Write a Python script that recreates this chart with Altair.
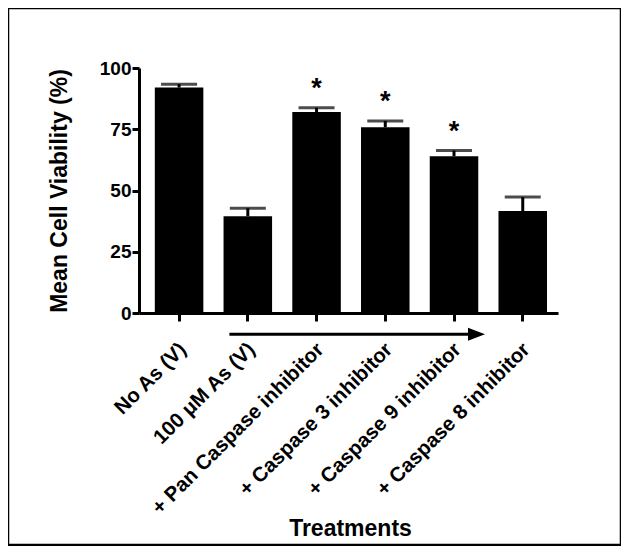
import altair as alt
import pandas as pd

categories = [
    "No As (V)",
    "100 μM As (V)",
    "+ Pan Caspase inhibitor",
    "+ Caspase 3 inhibitor",
    "+ Caspase 9 inhibitor",
    "+ Caspase 8 inhibitor",
]
means = [92.0, 39.5, 82.0, 75.8, 64.0, 41.6]
sems = [1.4, 3.3, 1.8, 2.6, 2.3, 5.7]
significant = ["", "", "*", "*", "*", ""]

arrow_start = ["100 μM As (V)"]
arrow_end = ["+ Caspase 9 inhibitor"]

FONT = "Liberation Sans"

df = pd.DataFrame({
    "cat": categories,
    "mean": means,
    "sem": sems,
    "star": significant,
})
df["upper"] = df["mean"] + df["sem"]
stars = df[df["star"] != ""]
arrow_df = pd.DataFrame({"cat": arrow_start, "cat_end": arrow_end})

W, H = 419, 245

xscale = alt.Scale(domain=categories, paddingInner=0.294, paddingOuter=0.195, align=0.59)
xaxis = alt.Axis(
    title="Treatments",
    labelAngle=-45, labelAlign="right", labelBaseline="middle",
    labelFontSize=20.5, labelFont=FONT, labelFontWeight="bold", labelColor="black",
    labelPadding=25, labelOffset=4, labelLimit=400,
    tickSize=8, tickWidth=3, tickColor="black",
    domainWidth=3, domainColor="black",
    titleFontSize=23, titleFont=FONT, titleFontWeight="bold", titleColor="black",
    titleX=211, titleY=222, titleAlign="center", titleBaseline="alphabetic",
    grid=False,
)
yaxis = alt.Axis(
    title="Mean Cell Viability (%)",
    values=[0, 25, 50, 75, 100],
    labelFontSize=19, labelFont=FONT, labelFontWeight="bold", labelColor="black",
    labelPadding=1,
    tickSize=7, tickWidth=3, tickColor="black",
    domainWidth=3, domainColor="black",
    titleFontSize=23, titleFont=FONT, titleFontWeight="bold", titleColor="black",
    titleX=-73, titleY=122.5, titleAlign="center", titleBaseline="alphabetic", titleAngle=-90,
    grid=False,
)
yscale = alt.Scale(domain=[0, 100], nice=False, zero=True)


def X(field="cat"):
    return alt.X(f"{field}:N", sort=categories, scale=xscale, axis=xaxis)


def Y(field):
    return alt.Y(f"{field}:Q", scale=yscale, axis=yaxis)


base = alt.Chart(df)

bars = base.mark_bar(color="black").encode(x=X(), y=Y("mean"))
err = base.mark_rule(color="black", strokeWidth=3).encode(x=X(), y=Y("mean"), y2="upper:Q")
caps = base.mark_tick(color="black", size=36, thickness=3).encode(x=X(), y=Y("upper"))
star_text = alt.Chart(stars).mark_text(
    font=FONT, fontSize=27, fontWeight="bold", color="black", baseline="alphabetic", dy=-11
).encode(x=X(), y=Y("upper"), text="star:N")

arrow_line = alt.Chart(arrow_df).mark_rule(
    color="black", strokeWidth=3, xOffset=-18.4, x2Offset=20
).encode(x=X(), x2="cat_end:N", y=alt.value(266.3))
arrow_head = alt.Chart(arrow_df).mark_point(
    shape="M-1,-0.76L1,0L-1,0.76Z", filled=True, color="black", opacity=1, size=289, xOffset=22.5
).encode(x=X("cat_end"), y=alt.value(266.3))

frame = alt.Chart(pd.DataFrame({"k": [0]})).mark_rect(
    filled=False, stroke="black", strokeWidth=3.5, fill=None
).encode(
    x=alt.value(-131.5), x2=alt.value(482.5), y=alt.value(-60.5), y2=alt.value(477.5)
)

chart = alt.layer(bars, err, caps, star_text, arrow_line, arrow_head, frame).properties(
    width=W, height=H,
    autosize=alt.AutoSizeParams(type="none"),
    padding={"left": 131, "top": 60, "right": 63, "bottom": 233},
    background="white",
).configure_view(stroke=None)

chart.save("out.html", embed_options={"renderer": "svg", "actions": False})
